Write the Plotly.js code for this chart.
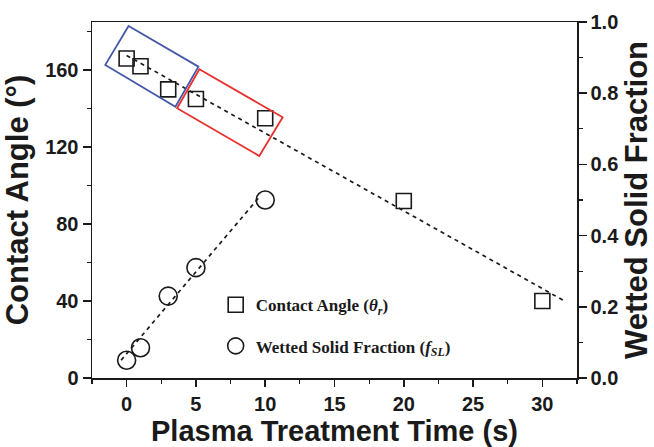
<!DOCTYPE html>
<html>
<head>
<meta charset="utf-8">
<script src="https://cdn.plot.ly/plotly-3.0.1.min.js"></script>
<style>html,body{margin:0;padding:0;background:#fff}#chart{width:654px;height:447px}</style>
</head>
<body>
<div id="chart"></div>
<script>
// ---- data ----
const timeS = [0, 1, 3, 5, 10, 20, 30];
const contactAngle = [166, 162, 150, 145, 135, 92, 40];
const timeF = [0, 1, 3, 5, 10];
const wettedFraction = [0.05, 0.085, 0.23, 0.31, 0.50];
// dashed trend lines
const angleFitX = [0, 31.7];
const angleFitY = [167.6, 39.6];
const fracFitX = [-0.4, 9.5];
const fracFitY = [0.05, 0.505];
// highlighted regions (corners, x in s, y in degrees)
const blueBoxX = [0.14, 5.18, 3.52, -1.54];
const blueBoxY = [182.9, 161.8, 141.0, 162.7];
const redBoxX = [5.25, 11.26, 9.57, 3.64];
const redBoxY = [160.4, 135.5, 115.4, 140.2];
const legendNames = ['Contact Angle (<i>θ<sub>r</sub></i>)', 'Wetted Solid Fraction (<i>f<sub>SL</sub></i>)'];

function boxPath(xs, ys) {
  return xs.map((x, i) => (i ? 'L' : 'M') + x + ',' + ys[i]).join(' ') + ' Z';
}

const sans = 'Liberation Sans, Arial, sans-serif';
const serif = 'Liberation Serif, Times New Roman, serif';
const ink = '#1a1a1a';

const traces = [
  {x: timeS, y: contactAngle, type: 'scatter', mode: 'markers', name: legendNames[0],
   legendgroup: 'a', yaxis: 'y',
   marker: {symbol: 'square-open', size: 15, color: ink, line: {width: 1.6, color: ink}}},
  {x: timeF, y: wettedFraction, type: 'scatter', mode: 'markers', name: legendNames[1],
   legendgroup: 'b', yaxis: 'y2',
   marker: {symbol: 'circle-open', size: 18, color: ink, line: {width: 1.6, color: ink}}},
  {x: angleFitX, y: angleFitY, type: 'scatter', mode: 'lines', showlegend: false, yaxis: 'y',
   line: {color: ink, width: 1.7, dash: '4px,4px'}},
  {x: fracFitX, y: fracFitY, type: 'scatter', mode: 'lines', showlegend: false, yaxis: 'y2',
   line: {color: ink, width: 1.7, dash: '4px,4px'}}
];

const tickFont = {family: sans, size: 20, color: ink, weight: 'bold'};
const titleFont = {family: sans, size: 31, color: ink, weight: 'bold'};

const layout = {
  width: 654, height: 447,
  margin: {l: 92, r: 77, t: 22, b: 69},
  paper_bgcolor: '#fff', plot_bgcolor: '#fff',
  showlegend: true,
  legend: {x: 0.255, y: 0.255, xanchor: 'left', yanchor: 'top', bgcolor: 'rgba(0,0,0,0)',
           traceorder: 'grouped', tracegroupgap: 16,
           font: {family: serif, size: 17, color: ink, weight: 'bold'}},
  xaxis: {range: [-2.5, 32.5], dtick: 5, tick0: 0, showgrid: false, zeroline: false,
          showline: true, linecolor: ink, linewidth: 1.5, mirror: true,
          ticks: 'outside', ticklen: 7, tickwidth: 1.5, tickcolor: ink,
          minor: {dtick: 2.5, tick0: 0, ticks: 'outside', ticklen: 4, tickwidth: 1.2, tickcolor: ink, showgrid: false},
          tickfont: tickFont,
          title: {text: 'Plasma Treatment Time (s)', font: {family: sans, size: 29, color: ink, weight: 'bold'}, standoff: 10}},
  yaxis: {range: [0, 185], dtick: 40, tick0: 0, showgrid: false, zeroline: false,
          showline: true, linecolor: ink, linewidth: 1.5,
          ticks: 'outside', ticklen: 8, tickwidth: 1.5, tickcolor: ink,
          minor: {dtick: 20, tick0: 0, ticks: 'outside', ticklen: 4, tickwidth: 1.2, tickcolor: ink, showgrid: false},
          tickfont: tickFont,
          title: {text: 'Contact Angle (°)', font: titleFont, standoff: 8}},
  yaxis2: {range: [0, 1], dtick: 0.2, tick0: 0, tickformat: '.1f', overlaying: 'y', side: 'right',
           showgrid: false, zeroline: false,
           showline: true, linecolor: ink, linewidth: 1.5,
           ticks: 'outside', ticklen: 8, tickwidth: 1.5, tickcolor: ink,
           minor: {dtick: 0.1, tick0: 0, ticks: 'outside', ticklen: 4, tickwidth: 1.2, tickcolor: ink, showgrid: false},
           tickfont: tickFont,
           title: {text: 'Wetted Solid Fraction', font: titleFont, standoff: 6}},
  shapes: [
    {type: 'path', xref: 'x', yref: 'y', path: boxPath(blueBoxX, blueBoxY),
     line: {color: '#4457a8', width: 1.8}, fillcolor: 'rgba(0,0,0,0)'},
    {type: 'path', xref: 'x', yref: 'y', path: boxPath(redBoxX, redBoxY),
     line: {color: '#e8312e', width: 1.8}, fillcolor: 'rgba(0,0,0,0)'}
  ]
};

Plotly.newPlot('chart', traces, layout, {staticPlot: true, displayModeBar: false});
</script>
</body>
</html>
